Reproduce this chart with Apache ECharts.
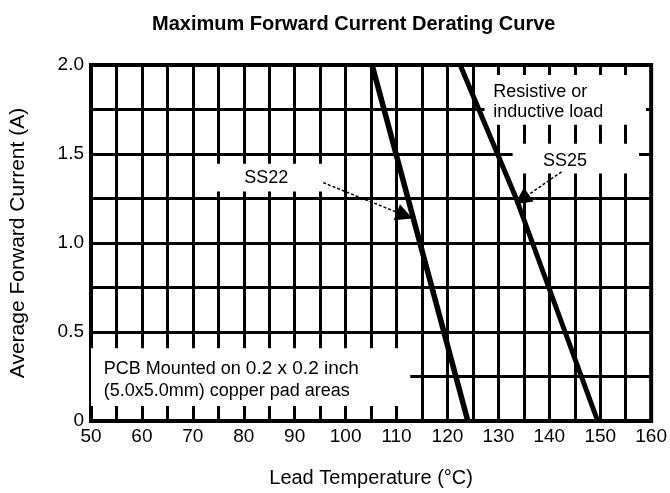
<!DOCTYPE html>
<html>
<head>
<meta charset="utf-8">
<script src="https://cdn.jsdelivr.net/npm/echarts@6/dist/echarts.min.js"></script>
<style>
html, body { margin: 0; padding: 0; background: #fff; }
#chart { width: 670px; height: 493px; }
</style>
</head>
<body>
<div id="chart"></div>
<script>
// axis ticks
var tempTicks = [50, 60, 70, 80, 90, 100, 110, 120, 130, 140, 150, 160];
var currentTicks = [0, 0.5, 1.0, 1.5, 2.0];
var currentTickLabels = ['0', '0.5', '1.0', '1.5', '2.0'];

// derating curves (lead temp in C, current in A)
var ss22Temp = [105.2, 124];
var ss22Current = [2.0, 0];
var ss25Temp = [122.5, 133.5, 149.5];
var ss25Current = [2.0, 1.25, 0];

var font = 'Liberation Sans, Arial, sans-serif';

function pairs(xs, ys) {
	var out = [];
	for (var i = 0; i < xs.length; i++) out.push([xs[i], ys[i]]);
	return out;
}

// white boxes behind the notes, in data units
function box(x1, y1, x2, y2) {
	return [{ xAxis: x1, yAxis: y1 }, { xAxis: x2, yAxis: y2 }];
}

function note(x, y, text, align, rich) {
	return {
		coord: [x, y],
		label: {
			show: true, position: [0, 0], align: align, verticalAlign: 'middle',
			formatter: text, color: '#000', fontFamily: font, fontSize: 18,
			lineHeight: 20, rich: rich || {}
		}
	};
}

var chart = echarts.init(document.getElementById('chart'));

var option = {
	animation: false,
	backgroundColor: '#fff',
	title: {
		text: 'Maximum Forward Current Derating Curve',
		left: 147, top: 9,
		textStyle: { fontFamily: font, fontSize: 20, fontWeight: 'bold', color: '#000' }
	},
	grid: {
		left: 89.5, right: 18, top: 65, bottom: 71,
		show: true, borderColor: '#000', borderWidth: 4
	},
	xAxis: {
		type: 'value', min: 50, max: 160, interval: 5,
		name: 'Lead Temperature (°C)', nameLocation: 'middle', nameGap: 47,
		nameTextStyle: { fontFamily: font, fontSize: 20, color: '#000' },
		axisLine: { show: true, lineStyle: { color: '#000', width: 4 } },
		axisTick: { show: false },
		axisLabel: {
			margin: 6, fontFamily: font, fontSize: 19, color: '#000',
			formatter: function (v) { return tempTicks.indexOf(v) >= 0 ? String(v) : ''; }
		},
		splitLine: { show: true, lineStyle: { color: '#000', width: 3 } }
	},
	yAxis: {
		type: 'value', min: 0, max: 2, interval: 0.25,
		name: 'Average Forward Current (A)', nameLocation: 'middle', nameGap: 62,
		nameTextStyle: { fontFamily: font, fontSize: 21, color: '#000' },
		axisLine: { show: true, lineStyle: { color: '#000', width: 4 } },
		axisTick: { show: false },
		axisLabel: {
			margin: 7, fontFamily: font, fontSize: 19, color: '#000',
			formatter: function (v) {
				for (var i = 0; i < currentTicks.length; i++) {
					if (Math.abs(currentTicks[i] - v) < 1e-6) return currentTickLabels[i];
				}
				return '';
			}
		},
		splitLine: { show: true, lineStyle: { color: '#000', width: 3 } }
	},
	series: [
		{
			name: 'boxes', type: 'line', z: 1, data: [], silent: true,
			markArea: {
				silent: true,
				itemStyle: { color: '#fff', opacity: 1, borderWidth: 0 },
				label: { show: false },
				data: [
					box(50, 0.084, 112.7, 0.409),
					box(127.3, 1.664, 159, 1.944),
					box(132.8, 1.39, 157.6, 1.557),
					box(71.6, 1.289, 97, 1.445)
				]
			},
			markPoint: {
				symbol: 'rect', symbolSize: 1, silent: true,
				itemStyle: { color: 'rgba(0,0,0,0)' },
				data: [
					note(52.6, 0.23, '{a|PCB Mounted on }{b|0.2 x 0.2 inch}\n{a|(5.0x5.0mm) copper pad areas}', 'left',
						{ a: { fontFamily: font, fontSize: 18, color: '#000', lineHeight: 22 },
						  b: { fontFamily: font, fontSize: 19, color: '#000', lineHeight: 22 } }),
					note(129.1, 1.79, 'Resistive or\ninductive load', 'left'),
					note(84.5, 1.361, 'SS22', 'center'),
					note(143.2, 1.457, 'SS25', 'center')
				]
			}
		},
		{
			name: 'SS22', type: 'line', z: 5, symbol: 'none', silent: true,
			lineStyle: { color: '#000', width: 5.5 },
			data: pairs(ss22Temp, ss22Current)
		},
		{
			name: 'SS25', type: 'line', z: 5, symbol: 'none', silent: true,
			lineStyle: { color: '#000', width: 5 },
			data: pairs(ss25Temp, ss25Current)
		},
		{
			name: 'arrows', type: 'line', z: 6, data: [], silent: true,
			markLine: {
				silent: true, symbol: ['none', 'triangle'], symbolSize: 17,
				label: { show: false },
				lineStyle: { color: '#000', width: 1.5, type: [3, 2] },
				data: [
					[{ coord: [95.6, 1.339] }, { coord: [111.6, 1.155] }],
					[{ coord: [142.4, 1.40] }, { coord: [134.6, 1.245] }]
				]
			}
		}
	]
};

chart.setOption(option);
</script>
</body>
</html>
